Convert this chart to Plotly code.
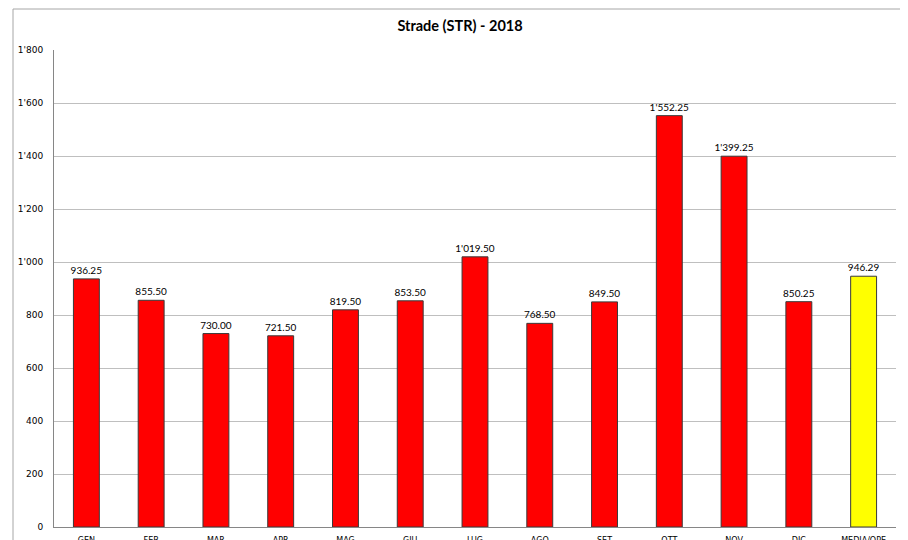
import plotly.graph_objects as go

# data
months = ["GEN", "FEB", "MAR", "APR", "MAG", "GIU", "LUG", "AGO", "SET", "OTT", "NOV", "DIC", "MEDIA/OPE"]
values = [936.25, 855.50, 730.00, 721.50, 819.50, 853.50, 1019.50, 768.50, 849.50, 1552.25, 1399.25, 850.25, 946.29]
bar_colors = ["#FF0000"] * 12 + ["#FFFF00"]

# the page body adds an 8px margin, so the figure is 8px smaller than the window
W, H = 900, 532
L, R, T, B = 46, 12, 42, 13
pw = W - L - R
ph = H - T - B

fig = go.Figure()
fig.add_trace(go.Bar(
    x=months,
    y=values,
    marker=dict(color=bar_colors, line=dict(color="#3a3a3a", width=1)),
    texttemplate="%{y:,.2f}",
    textposition="outside",
    constraintext="none",
    textfont=dict(family="Lato, Carlito, sans-serif", size=10, color="#000000"),
    cliponaxis=False,
    hoverinfo="skip",
))

# outer chart border like the spreadsheet frame
fig.add_shape(
    type="rect", xref="paper", yref="paper",
    x0=(5 - L) / pw, x1=(897 - L) / pw,
    y0=-0.2, y1=(H - B - 1) / ph,
    line=dict(color="#A6A6A6", width=1), fillcolor="rgba(0,0,0,0)", layer="below",
)

fig.update_layout(
    width=W, height=H,
    margin=dict(l=L, r=R, t=T, b=B, autoexpand=False),
    paper_bgcolor="white",
    plot_bgcolor="white",
    separators=".'",
    bargap=0.6,
    showlegend=False,
    title=dict(
        text="<b>Strade (STR) - 2018</b>",
        x=(452 / W), xanchor="center", y=1 - 18 / H, yanchor="middle",
        font=dict(family="Lato, Carlito, sans-serif", size=14.5, color="#000000"),
    ),
    xaxis=dict(
        automargin=False,
        showgrid=False,
        showline=True, linecolor="#868686", linewidth=1,
        ticks="",
        ticklabelstandoff=5,
        tickfont=dict(family="DejaVu Sans, Verdana, sans-serif", size=8, color="#000000"),
    ),
    yaxis=dict(
        automargin=False,
        range=[0, 1800], dtick=200,
        tickformat=",d",
        showgrid=True, gridcolor="#BFBFBF", gridwidth=1,
        showline=True, linecolor="#868686", linewidth=1,
        zeroline=False,
        ticks="",
        ticklabelstandoff=8,
        tickfont=dict(family="DejaVu Sans, Verdana, sans-serif", size=9, color="#000000"),
    ),
)

fig.write_html("out.html")
